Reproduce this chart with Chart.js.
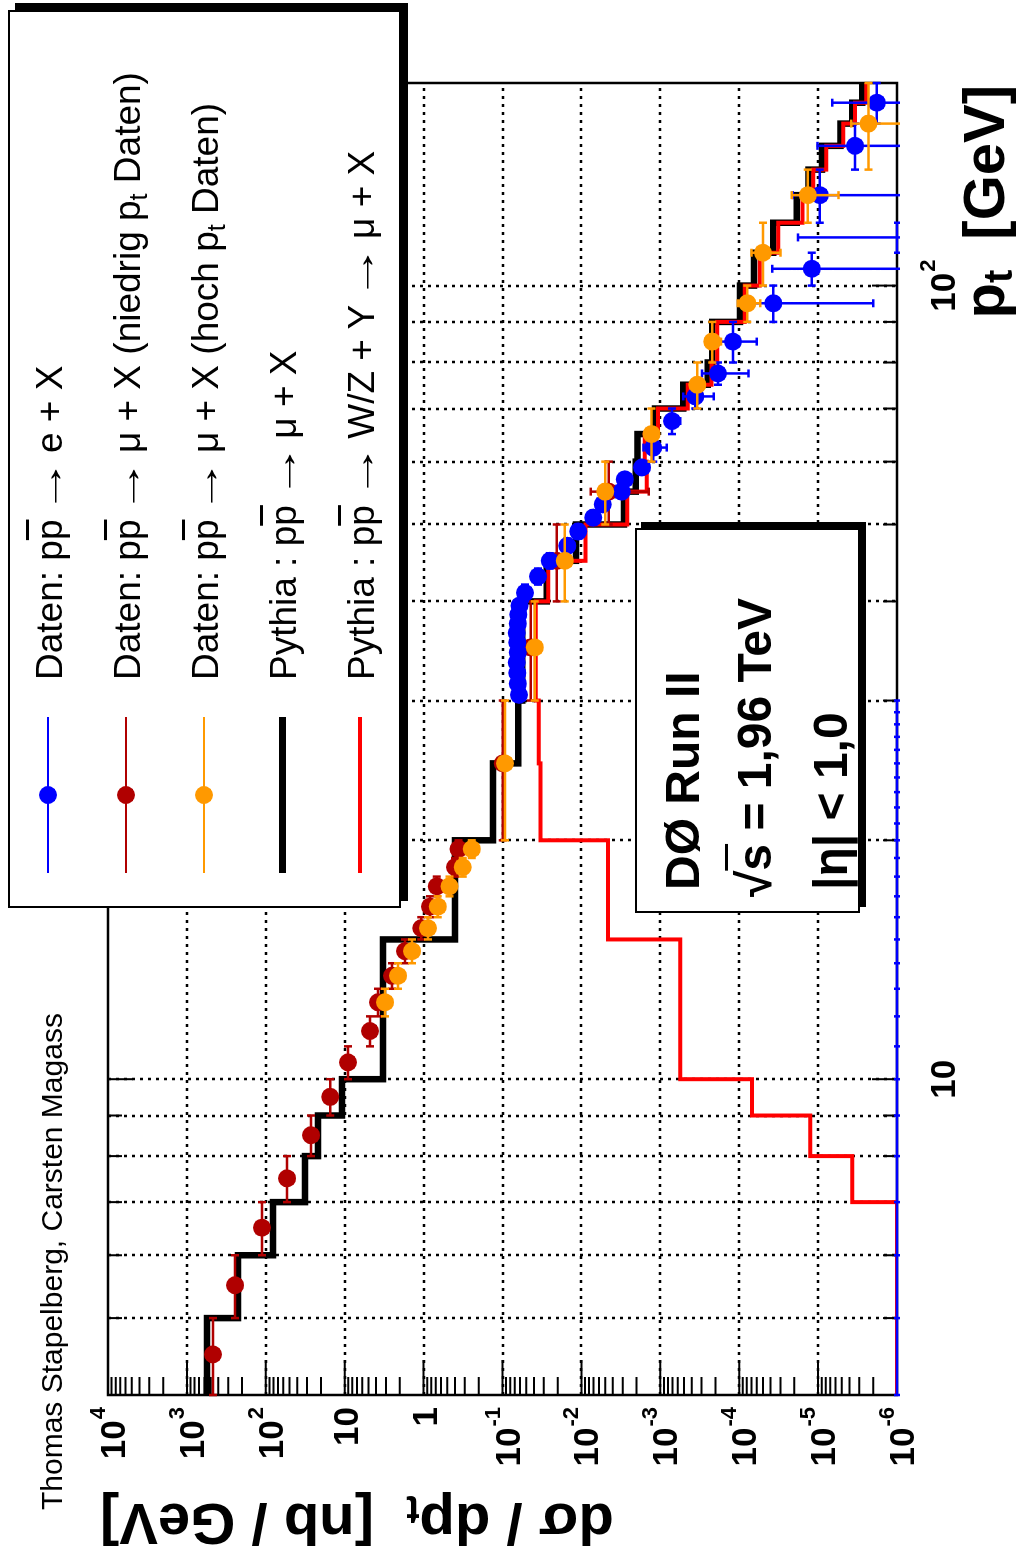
<!DOCTYPE html>
<html>
<head>
<meta charset="utf-8">
<script src="https://cdn.jsdelivr.net/npm/chart.js@4.4.1/dist/chart.umd.min.js"></script>
<style>
  html, body { margin: 0; padding: 0; background: #fff; overflow: hidden; width: 1024px; height: 1553px; }
  /* the figure is laid out landscape and turned a quarter turn counter-clockwise */
  #page { position: absolute; left: 0; top: 0; width: 1553px; height: 1024px;
          transform-origin: 0 0; transform: translate(0, 1553px) rotate(-90deg);
          font-family: "Liberation Sans", Arial, sans-serif; color: #000; background: #fff; }
  #plot { position: absolute; left: 0; top: 0; }
  .box { position: absolute; background: #fff; border: 2.5px solid #000; box-sizing: border-box; box-shadow: 7px 7px 0 0 #000; }
  .txt { position: absolute; white-space: nowrap; }
  .ov { text-decoration: overline; text-decoration-thickness: 3px; }
  .sub { position: relative; font-size: 0.68em; top: 0.3em; }
  .arr { display: inline-block; transform: scaleX(1.5); margin: 0 0.12em; }
  .sym { position: absolute; }
</style>
</head>
<body>
<div id="page">
  <canvas id="plot" width="1553" height="1024"></canvas>
</div>
<script>
// ---------------- data ----------------
const PT_MIN = 4, PT_MAX = 180;
const XSEC_MIN = 1e-6, XSEC_MAX = 1e4;

// Pythia histograms (same binning)
const pythiaEdges = [4, 5, 6, 7, 8, 9, 10, 15, 20, 25, 30, 40, 45, 50, 55, 60, 65, 70, 75, 80, 90, 100, 110, 120, 130, 140, 150, 160, 170, 180];
const pythiaMuXsec = [556, 225, 81, 31.8, 21.8, 10.8, 3.27, 0.40, 0.132, 0.063, 0.056, 0.0275, 0.0117, 0.00288, 0.00205, 0.00195, 0.00117, 5.1e-4, 2.5e-4, 2.2e-4, 9.8e-5, 6.5e-5, 3.7e-5, 1.86e-5, 1.32e-5, 8.9e-6, 5.2e-6, 3.7e-6, 2.75e-6];
const pythiaWZXsec = [0, 0, 0, 3.7e-6, 1.26e-5, 6.9e-5, 5.6e-4, 4.6e-3, 0.033, 0.0347, 0.038, 0.0263, 0.0089, 0.00263, 0.00148, 0.00158, 0.00107, 4.5e-4, 2.24e-4, 1.9e-4, 8.5e-5, 5.5e-5, 3.2e-5, 1.58e-5, 1.15e-5, 7.9e-6, 4.8e-6, 3.4e-6, 2.45e-6];

// muon data, low-pt trigger
const muLowEdges = [4, 5, 6, 7, 8, 9, 10, 11, 12, 13, 14, 15, 16, 17, 18, 19, 20, 30, 40, 50, 60];
const muLowXsec = [467, 245, 112, 53.8, 26.7, 15.3, 9.08, 4.78, 3.78, 2.51, 1.72, 1.07, 0.83, 0.68, 0.40, 0.36, 0.099, 0.044, 0.0205, 0.0045];
const muLowErr  = [55, 28, 13, 6.5, 3.3, 1.9, 1.1, 0.6, 0.45, 0.3, 0.2, 0.13, 0.1, 0.08, 0.05, 0.045, 0.012, 0.006, 0.004, 0.0031];

// muon data, high-pt trigger
const muHighEdges = [12, 13, 14, 15, 16, 17, 18, 19, 20, 30, 40, 50, 60, 70, 80, 90, 100, 120, 140, 180];
const muHighXsec = [3.08, 2.11, 1.40, 0.88, 0.66, 0.47, 0.32, 0.245, 0.093, 0.039, 0.0162, 0.0050, 0.00129, 3.4e-4, 2.2e-4, 7.9e-5, 5.0e-5, 1.35e-5, 2.3e-6];
const muHighErr  = [0.15, 0.1, 0.07, 0.05, 0.04, 0.03, 0.02, 0.017, 0.008, 0.003, 0.0015, 0.0006, 0.0002, 6e-5, 5e-5, 2.5e-5, 2e-5, 8e-6, 1.5e-6];

// electron data (empty bins below 30 GeV)
const elecEdges = [4, 5, 6, 7, 8, 9, 10, 11, 12, 13, 14, 15, 16, 17, 18, 19, 20, 21, 22, 23, 24, 25, 26, 27, 28, 29, 30,
                   31, 32, 33, 34, 35, 36, 37, 38, 39, 40, 42, 44, 46, 48, 50, 52, 54, 56, 58, 60,
                   65, 70, 75, 80, 90, 100, 110, 120, 140, 160, 180];
const elecXsec = [0, 0, 0, 0, 0, 0, 0, 0, 0, 0, 0, 0, 0, 0, 0, 0, 0, 0, 0, 0, 0, 0, 0, 0, 0, 0,
                  0.062, 0.064, 0.065, 0.066, 0.064, 0.065, 0.066, 0.064, 0.063, 0.061,
                  0.0519, 0.0355, 0.0251, 0.0151, 0.0110, 0.00708, 0.00537, 0.00309, 0.00282, 0.00170,
                  0.00123, 7.1e-4, 3.6e-4, 1.86e-4,
                  1.2e-4, 3.7e-5, 1.2e-5, 0,
                  9.5e-6, 3.4e-6, 1.8e-6];
const elecErr = [0, 0, 0, 0, 0, 0, 0, 0, 0, 0, 0, 0, 0, 0, 0, 0, 0, 0, 0, 0, 0, 0, 0, 0, 0, 0,
                 0.0022, 0.0022, 0.0023, 0.0023, 0.0022, 0.0023, 0.0023, 0.0022, 0.0022, 0.0021,
                 0.0015, 0.0012, 0.0009, 0.0006, 0.0005, 0.0004, 0.0003, 0.00025, 0.0003, 0.0002,
                 0.0004, 1.5e-4, 1.5e-4, 1.1e-4,
                 6e-5, 3.5e-5, 2.6e-5, 1.8e-5,
                 1.15e-5, 6.8e-6, 4.8e-6];

// axis ticks and labels
const xsecTickValues = [1e4, 1e3, 1e2, 10, 1, 1e-1, 1e-2, 1e-3, 1e-4, 1e-5, 1e-6];
const xsecTickBases  = ['10', '10', '10', '10', '1', '10', '10', '10', '10', '10', '10'];
const xsecTickExps   = ['4', '3', '2', '', '', '-1', '-2', '-3', '-4', '-5', '-6'];
const ptTickValues   = [5, 6, 7, 8, 9, 10, 20, 30, 40, 50, 60, 70, 80, 90, 100];
const ptLabelValues  = [10, 100];
const ptLabelBases   = ['10', '10'];
const ptLabelExps    = ['', '2'];

const BLUE = '#0000ff', DARKRED = '#b00000', ORANGE = '#ff9900', BLACK = '#000000', RED = '#ff0000';

const ARROW = '<span class="arr">→</span>';
const legendLabels = [
  'Daten: p<span class="ov">p</span> ' + ARROW + ' e + X',
  'Daten: p<span class="ov">p</span> ' + ARROW + ' μ + X (niedrig p<span class="sub">t</span> Daten)',
  'Daten: p<span class="ov">p</span> ' + ARROW + ' μ + X (hoch p<span class="sub">t</span> Daten)',
  'Pythia : p<span class="ov">p</span> ' + ARROW + ' μ + X',
  'Pythia : p<span class="ov">p</span> ' + ARROW + ' W/Z + Y ' + ARROW + ' μ + X'
];
const legendColors  = [BLUE, DARKRED, ORANGE, BLACK, RED];
const legendWidths  = [2.5, 2.5, 2.5, 7, 3.5];
const legendMarkers = [true, true, true, false, false];

const infoLines = [
  'DØ Run II',
  '√<span class="ov">s</span> = 1,96 TeV',
  '|η| &lt; 1,0'
];

// ---------------- helpers ----------------
function binPoints(edges, values) {
  return values.map((v, i) => ({ x: (edges[i] + edges[i + 1]) / 2, y: v > 0 ? v : XSEC_MIN, lo: edges[i], hi: edges[i + 1], v: v }));
}
function histPoints(edges, values) {
  return edges.map((e, i) => {
    const v = values[Math.min(i, values.length - 1)];
    return { x: e, y: v > 0 ? v : XSEC_MIN };
  });
}
const markerRadius = (c) => (c.raw && c.raw.v > 0) ? 9 : 0;

function pointSet(label, color, edges, values, errors, order) {
  return {
    label, order, errors,
    data: binPoints(edges, values),
    showLine: false,
    borderColor: color, backgroundColor: color,
    pointBackgroundColor: color, pointBorderColor: color, pointBorderWidth: 0,
    pointRadius: markerRadius, pointHoverRadius: markerRadius, pointStyle: 'circle'
  };
}
function histSet(label, color, width, edges, values, order) {
  return {
    label, order,
    data: histPoints(edges, values),
    stepped: 'before', fill: false, tension: 0,
    borderColor: color, borderWidth: width, borderJoinStyle: 'miter', borderCapStyle: 'butt',
    pointRadius: 0, pointHoverRadius: 0
  };
}

// error bars with end caps, drawn underneath each dataset's markers
const errorBars = {
  id: 'errorBars',
  beforeDatasetDraw(chart, args) {
    const ds = chart.data.datasets[args.index];
    if (!ds.errors) return;
    const { ctx, chartArea: a, scales: { x, y } } = chart;
    ctx.save();
    ctx.beginPath();
    ctx.rect(a.left - 4, a.top - 4, a.right - a.left + 8, a.bottom - a.top + 8);
    ctx.clip();
    ctx.strokeStyle = ds.borderColor;
    ctx.lineWidth = 2.5;
    ctx.beginPath();
    ds.data.forEach((p, i) => {
      const cap = p.v > 0 ? 4 : 3;
      const px = x.getPixelForValue(p.x), py = y.getPixelForValue(p.y);
      const xl = x.getPixelForValue(p.lo), xh = x.getPixelForValue(p.hi);
      ctx.moveTo(xl, py); ctx.lineTo(xh, py);
      ctx.moveTo(xl, py - cap); ctx.lineTo(xl, py + cap);
      ctx.moveTo(xh, py - cap); ctx.lineTo(xh, py + cap);
      const e = ds.errors[i];
      if (e > 0) {
        const top = y.getPixelForValue(p.v + e);
        const low = p.v - e;
        const bot = low > XSEC_MIN ? y.getPixelForValue(low) : a.bottom + 3;
        ctx.moveTo(px, top); ctx.lineTo(px, bot);
        ctx.moveTo(px - 4, top); ctx.lineTo(px + 4, top);
        if (low > XSEC_MIN) { ctx.moveTo(px - 4, bot); ctx.lineTo(px + 4, bot); }
      }
    });
    ctx.stroke();
    ctx.restore();
  }
};

const BASE_FONT = 'bold 35px "Liberation Sans", Arial, sans-serif';
const EXP_FONT  = 'bold 22px "Liberation Sans", Arial, sans-serif';
function drawPower(ctx, base, exp, x, baseline, align) {
  ctx.font = BASE_FONT;
  const wb = ctx.measureText(base).width;
  ctx.font = EXP_FONT;
  const we = exp ? ctx.measureText(exp).width + 1 : 0;
  const x0 = align === 'right' ? x - wb - we : x - (wb + we) / 2;
  ctx.textAlign = 'left';
  ctx.textBaseline = 'alphabetic';
  ctx.font = BASE_FONT;
  ctx.fillText(base, x0, baseline);
  if (exp) {
    ctx.font = EXP_FONT;
    ctx.fillText(exp, x0 + wb + 1, baseline - 20);
  }
}

// frame, dotted grid, inward ticks, tick labels and axis titles
const rootAxes = {
  id: 'rootAxes',
  beforeDatasetsDraw(chart) {
    const { ctx, chartArea: a, scales: { x, y } } = chart;
    ctx.save();
    ctx.strokeStyle = '#000';
    ctx.lineWidth = 2.5;
    ctx.setLineDash([3, 5]);
    ptTickValues.forEach(v => {
      const p = Math.round(x.getPixelForValue(v));
      ctx.beginPath(); ctx.moveTo(p, a.top); ctx.lineTo(p, a.bottom); ctx.stroke();
    });
    xsecTickValues.forEach(v => {
      if (v >= XSEC_MAX || v <= XSEC_MIN) return;
      const p = Math.round(y.getPixelForValue(v));
      ctx.beginPath(); ctx.moveTo(a.left, p); ctx.lineTo(a.right, p); ctx.stroke();
    });
    ctx.setLineDash([]);
    ctx.lineWidth = 2;
    ctx.beginPath();
    for (let e = -6; e <= 4; e++) {
      for (let k = 1; k <= 9; k++) {
        const v = k * Math.pow(10, e);
        if (v > XSEC_MAX * 1.0001) break;
        const p = y.getPixelForValue(v);
        const len = k === 1 ? 35 : 18;
        ctx.moveTo(a.left, p); ctx.lineTo(a.left + len, p);
      }
    }
    ptTickValues.forEach(v => {
      const p = x.getPixelForValue(v);
      const len = (v === 10 || v === 100) ? 25 : 14;
      ctx.moveTo(p, a.bottom); ctx.lineTo(p, a.bottom - len);
      ctx.moveTo(p, a.top); ctx.lineTo(p, a.top + len);
    });
    ctx.stroke();
    ctx.lineWidth = 2.5;
    ctx.strokeRect(a.left, a.top, a.right - a.left, a.bottom - a.top);
    ctx.restore();
  },
  afterDraw(chart) {
    const { ctx, chartArea: a, scales: { x, y } } = chart;
    ctx.save();
    ctx.fillStyle = '#000';
    xsecTickValues.forEach((v, i) => {
      const p = y.getPixelForValue(v);
      const exp = xsecTickExps[i];
      drawPower(ctx, xsecTickBases[i], exp, a.left - 12, p + (exp ? 17 : 13), 'right');
    });
    ptLabelValues.forEach((v, i) => {
      drawPower(ctx, ptLabelBases[i], ptLabelExps[i], x.getPixelForValue(v), a.bottom + 58, 'center');
    });

    // horizontal axis title: p_t [GeV], flush with the axis end
    const big = 'bold 58px "Liberation Sans", Arial, sans-serif';
    const small = 'bold 40px "Liberation Sans", Arial, sans-serif';
    ctx.textAlign = 'left'; ctx.textBaseline = 'alphabetic';
    ctx.font = big;
    const wUnit = ctx.measureText('[GeV]').width;
    const wP = ctx.measureText('p').width;
    ctx.font = small;
    const wT = ctx.measureText('t').width;
    const xEnd = a.right - 2, base = a.bottom + 107;
    let cx = xEnd - wUnit;
    ctx.font = big; ctx.fillText('[GeV]', cx, base);
    cx -= 30 + wT;
    ctx.font = small; ctx.fillText('t', cx, base + 8);
    cx -= wP;
    ctx.font = big; ctx.fillText('p', cx, base);

    // vertical axis title: dσ / dp_t [nb / GeV], flush with the axis top
    ctx.translate(49, a.top - 8);
    ctx.rotate(-Math.PI / 2);
    ctx.font = big;
    const s1 = 'dσ / dp', s3 = '  [nb / GeV]';
    const w1 = ctx.measureText(s1).width, w3 = ctx.measureText(s3).width;
    ctx.font = small;
    const w2 = ctx.measureText('t').width;
    let tx = -(w1 + w2 + w3);
    ctx.font = big; ctx.fillText(s1, tx, 0); tx += w1;
    ctx.font = small; ctx.fillText('t', tx, 8); tx += w2;
    ctx.font = big; ctx.fillText(s3, tx, 0);
    ctx.restore();
  }
};

new Chart(document.getElementById('plot'), {
  type: 'line',
  data: {
    datasets: [
      pointSet('Daten: pp̄ → μ + X (hoch pt Daten)', ORANGE, muHighEdges, muHighXsec, muHighErr, 1),
      pointSet('Daten: pp̄ → e + X', BLUE, elecEdges, elecXsec, elecErr, 2),
      pointSet('Daten: pp̄ → μ + X (niedrig pt Daten)', DARKRED, muLowEdges, muLowXsec, muLowErr, 3),
      histSet('Pythia : pp̄ → W/Z + Y → μ + X', RED, 4, pythiaEdges, pythiaWZXsec, 4),
      histSet('Pythia : pp̄ → μ + X', BLACK, 6.5, pythiaEdges, pythiaMuXsec, 5)
    ]
  },
  options: {
    responsive: false,
    animation: false,
    devicePixelRatio: 1,
    events: [],
    layout: { padding: { left: 158, right: 83, top: 108, bottom: 127 } },
    plugins: { legend: { display: false }, tooltip: { enabled: false }, title: { display: false } },
    scales: {
      x: { type: 'logarithmic', min: PT_MIN, max: PT_MAX, display: false },
      y: { type: 'logarithmic', min: XSEC_MIN, max: XSEC_MAX, display: false }
    }
  },
  plugins: [rootAxes, errorBars]
});

// ---------------- legend, info box and author line ----------------
const page = document.getElementById('page');
function addEl(cls, css, html) {
  const d = document.createElement('div');
  d.className = cls;
  Object.assign(d.style, css);
  if (html !== undefined) d.innerHTML = html;
  page.appendChild(d);
  return d;
}
function addText(html, left, baseline, size, weight) {
  return addEl('txt', {
    left: left + 'px', top: (baseline - 0.8465 * size) + 'px',
    fontSize: size + 'px', lineHeight: size + 'px', fontWeight: weight
  }, html);
}

addEl('box', { left: '645px', top: '8px', width: '898px', height: '393px' });
legendLabels.forEach((lab, i) => {
  const v = 48 + 78 * i;
  const lw = legendWidths[i];
  addEl('sym', { left: '680px', top: (v - lw / 2) + 'px', width: '156px', height: lw + 'px', background: legendColors[i] });
  if (legendMarkers[i]) {
    addEl('sym', { left: '749px', top: (v - 9) + 'px', width: '18px', height: '18px', borderRadius: '50%', background: legendColors[i] });
  }
  addText(lab, 873, v + 14, 37, 'normal');
});

addEl('box', { left: '640px', top: '635px', width: '385px', height: '225px', boxShadow: '6px 6px 0 0 #000' });
addText(infoLines[0], 663, 700, 48, 'bold');
addText(infoLines[1], 656, 772, 48, 'bold');
addText(infoLines[2], 663, 848, 48, 'bold');

addText('Thomas Stapelberg, Carsten Magass', 43, 62, 30, 'normal');
</script>
</body>
</html>
